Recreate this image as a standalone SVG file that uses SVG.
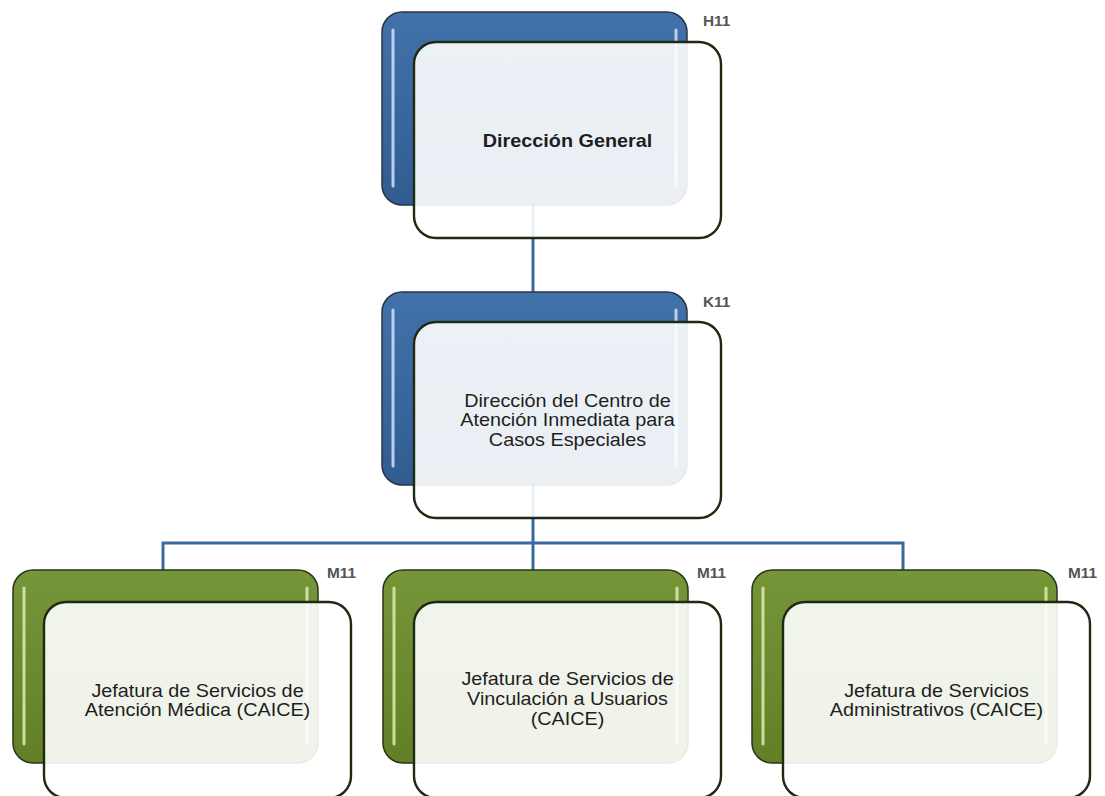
<svg xmlns="http://www.w3.org/2000/svg" width="1105" height="796" viewBox="0 0 1105 796">
<style>
.bg{fill:#ffffff}
.conn{stroke:#3b68a0;stroke-width:3;fill:none}
.backB{fill:url(#gBlue);stroke:#2a3440;stroke-width:1.5}
.backG{fill:url(#gGreen);stroke:#2a3418;stroke-width:1.5}
.hlB{stroke:#c9dcf3;stroke-width:3;stroke-linecap:round;opacity:0.9}
.hlG{stroke:#d9e8a8;stroke-width:3;stroke-linecap:round;opacity:0.9}
.front{fill:#ffffff;fill-opacity:0.9;stroke:#1f2a12;stroke-width:2.4}
.t{font-family:"Liberation Sans",Arial,sans-serif;font-size:18px;fill:#1e1e1e;text-anchor:middle}
.tb{font-weight:bold}
.lbl{font-family:"Liberation Sans",Arial,sans-serif;font-size:14px;font-weight:bold;fill:#555}
</style>
<defs>
<linearGradient id="gBlue" x1="0" y1="0" x2="0" y2="1">
<stop offset="0" stop-color="#4272ab"/>
<stop offset="1" stop-color="#315c90"/>
</linearGradient>
<linearGradient id="gGreen" x1="0" y1="0" x2="0" y2="1">
<stop offset="0" stop-color="#76963a"/>
<stop offset="1" stop-color="#627f26"/>
</linearGradient>
</defs>
<rect class="bg" x="0" y="0" width="1105" height="796"/>
<g id="connectors">
<line class="conn" x1="533" y1="204" x2="533" y2="292"/>
<line class="conn" x1="533" y1="485" x2="533" y2="570"/>
<polyline class="conn" points="163,570 163,543 903,543 903,570"/>
</g>
<g id="node-h11">
<rect class="backB" x="382" y="12" width="305" height="193" rx="20"/>
<line class="hlB" x1="393" y1="30" x2="393" y2="186"/>
<line class="hlB" x1="676" y1="30" x2="676" y2="186"/>
<rect class="front" x="414" y="42" width="307" height="196" rx="22"/>
<text class="t tb" transform="translate(567.5,146.5) scale(1.1,1)" x="0" y="0">Dirección General</text>
<text class="lbl" transform="translate(703,26) scale(1.1,1)" x="0" y="0">H11</text>
</g>
<g id="node-k11">
<rect class="backB" x="382" y="292" width="305" height="193" rx="20"/>
<line class="hlB" x1="393" y1="310" x2="393" y2="466"/>
<line class="hlB" x1="676" y1="310" x2="676" y2="466"/>
<rect class="front" x="414" y="322" width="307" height="196" rx="22"/>
<text class="t" transform="translate(567.5,406.5) scale(1.1,1)" x="0" y="0"><tspan x="0" y="0">Dirección del Centro de</tspan><tspan x="0" y="20">Atención Inmediata para</tspan><tspan x="0" y="40">Casos Especiales</tspan></text>
<text class="lbl" transform="translate(703,307) scale(1.1,1)" x="0" y="0">K11</text>
</g>
<g id="node-m11-a">
<rect class="backG" x="13" y="570" width="305" height="193" rx="20"/>
<line class="hlG" x1="24" y1="588" x2="24" y2="744"/>
<line class="hlG" x1="307" y1="588" x2="307" y2="744"/>
<rect class="front" x="44" y="602" width="307" height="196" rx="22"/>
<text class="t" transform="translate(197.5,696.5) scale(1.1,1)" x="0" y="0"><tspan x="0" y="0">Jefatura de Servicios de</tspan><tspan x="0" y="20">Atención Médica (CAICE)</tspan></text>
<text class="lbl" transform="translate(327,578) scale(1.1,1)" x="0" y="0">M11</text>
</g>
<g id="node-m11-b">
<rect class="backG" x="383" y="570" width="305" height="193" rx="20"/>
<line class="hlG" x1="394" y1="588" x2="394" y2="744"/>
<line class="hlG" x1="677" y1="588" x2="677" y2="744"/>
<rect class="front" x="414" y="602" width="307" height="196" rx="22"/>
<text class="t" transform="translate(567.5,685) scale(1.1,1)" x="0" y="0"><tspan x="0" y="0">Jefatura de Servicios de</tspan><tspan x="0" y="20">Vinculación a Usuarios</tspan><tspan x="0" y="40">(CAICE)</tspan></text>
<text class="lbl" transform="translate(697,578) scale(1.1,1)" x="0" y="0">M11</text>
</g>
<g id="node-m11-c">
<rect class="backG" x="752" y="570" width="305" height="193" rx="20"/>
<line class="hlG" x1="763" y1="588" x2="763" y2="744"/>
<line class="hlG" x1="1046" y1="588" x2="1046" y2="744"/>
<rect class="front" x="783" y="602" width="307" height="196" rx="22"/>
<text class="t" transform="translate(936.5,696.5) scale(1.1,1)" x="0" y="0"><tspan x="0" y="0">Jefatura de Servicios</tspan><tspan x="0" y="20">Administrativos (CAICE)</tspan></text>
<text class="lbl" transform="translate(1068,578) scale(1.1,1)" x="0" y="0">M11</text>
</g>
</svg>
